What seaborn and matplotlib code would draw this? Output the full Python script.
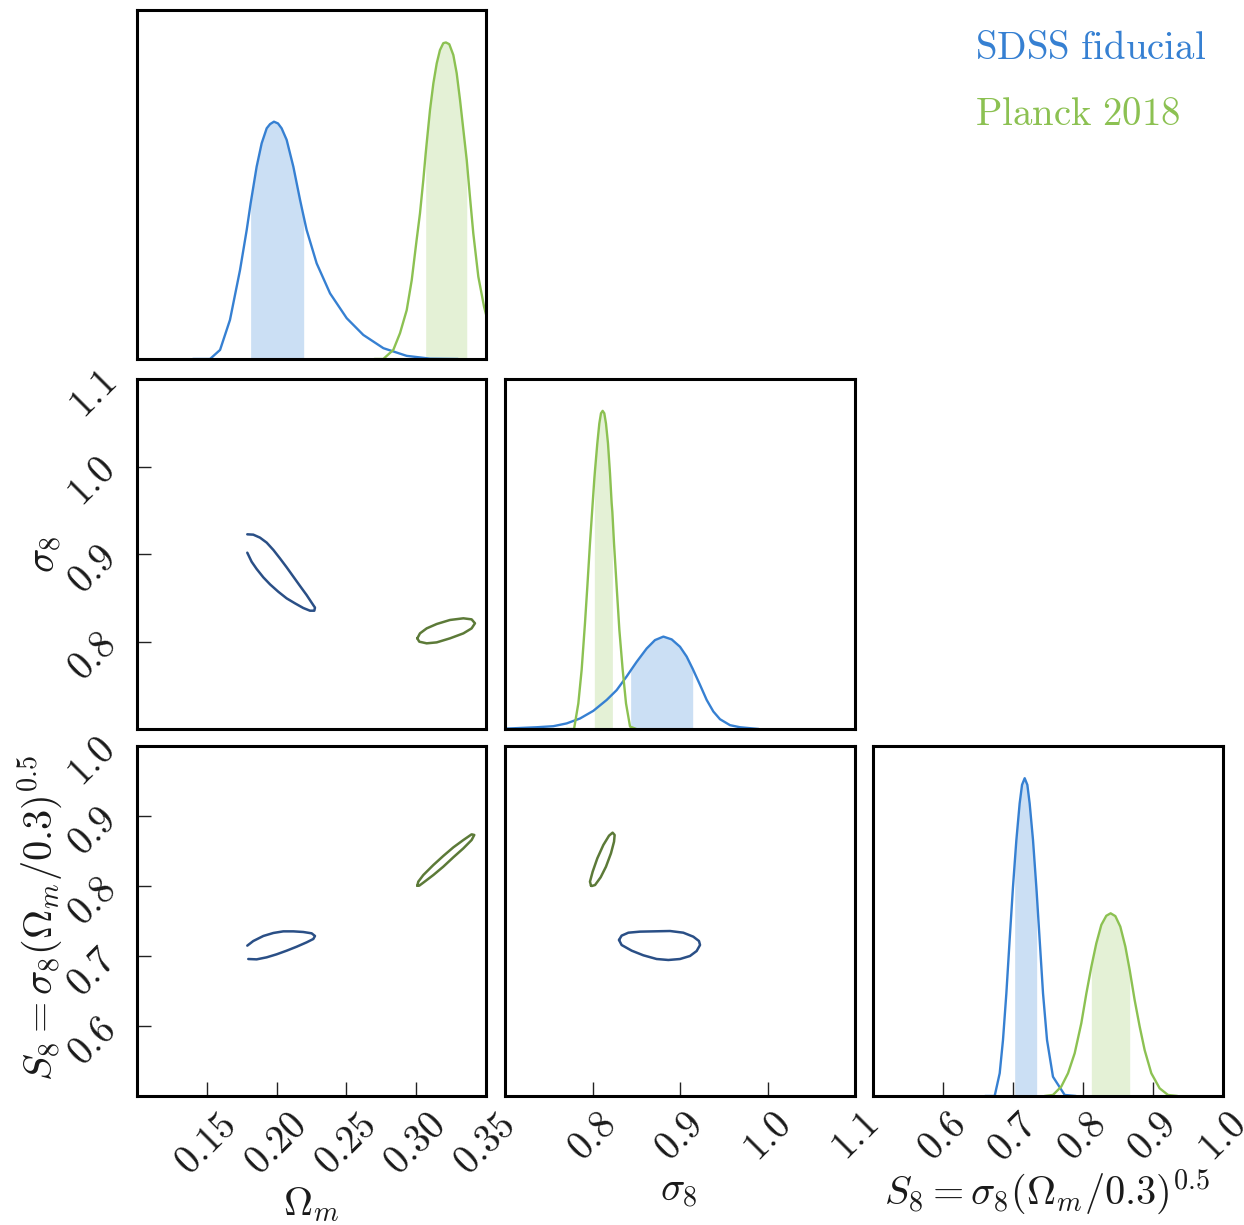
import numpy as np
import matplotlib
matplotlib.use("Agg")
import matplotlib.pyplot as plt
import seaborn as sns

# ---------------- data ----------------
# 1D marginals: parameter value and relative height (panel fraction)
om_sdss_x = [0.1400, 0.1523, 0.1595, 0.1666, 0.1738, 0.1786, 0.1814, 0.1857, 0.1893, 0.1929, 0.1953,
             0.1981, 0.2010, 0.2036, 0.2072, 0.2120, 0.2168, 0.2194, 0.2215, 0.2287, 0.2383, 0.2502,
             0.2621, 0.2765, 0.2932, 0.3099, 0.3300]
om_sdss_y = [0.000, 0.000, 0.026, 0.112, 0.255, 0.370, 0.446, 0.551, 0.618, 0.661, 0.673,
             0.680, 0.675, 0.661, 0.628, 0.551, 0.456, 0.408, 0.370, 0.274, 0.188, 0.117,
             0.069, 0.031, 0.009, 0.001, 0.000]
om_sdss_band = [0.1814, 0.2194]

om_planck_x = [0.2700, 0.2764, 0.2836, 0.2884, 0.2932, 0.2968, 0.3003, 0.3027, 0.3051, 0.3068,
               0.3075, 0.3099, 0.3123, 0.3147, 0.3170, 0.3194, 0.3213, 0.3237, 0.3266, 0.3290,
               0.3314, 0.3338, 0.3362, 0.3385, 0.3409, 0.3445, 0.3486, 0.3529, 0.3600]
om_planck_y = [0.000, 0.000, 0.026, 0.074, 0.140, 0.226, 0.341, 0.417, 0.513, 0.589,
               0.618, 0.714, 0.790, 0.847, 0.885, 0.905, 0.907, 0.902, 0.871, 0.819,
               0.742, 0.656, 0.570, 0.465, 0.360, 0.236, 0.150, 0.083, 0.030]
om_planck_band = [0.3068, 0.3362]

s8_sdss_x = [0.7000, 0.7362, 0.7552, 0.7705, 0.7857, 0.8010, 0.8162, 0.8276, 0.8390, 0.8436, 0.8505,
             0.8619, 0.8714, 0.8810, 0.8905, 0.9000, 0.9076, 0.9145, 0.9229, 0.9305, 0.9381,
             0.9457, 0.9571, 0.9686, 0.9900]
s8_sdss_y = [0.001, 0.005, 0.008, 0.016, 0.030, 0.052, 0.083, 0.111, 0.150, 0.167, 0.192,
             0.230, 0.254, 0.264, 0.256, 0.235, 0.207, 0.172, 0.126, 0.083, 0.050,
             0.028, 0.011, 0.005, 0.000]
s8_sdss_band = [0.8436, 0.9145]

s8_planck_x = [0.7700, 0.7789, 0.7838, 0.7876, 0.7914, 0.7941, 0.7971, 0.8002, 0.8021, 0.8029,
               0.8055, 0.8078, 0.8097, 0.8116, 0.8135, 0.8154, 0.8177, 0.8200, 0.8219, 0.8227,
               0.8246, 0.8276, 0.8307, 0.8345, 0.8383, 0.8429, 0.8500]
s8_planck_y = [0.000, 0.000, 0.073, 0.169, 0.302, 0.407, 0.530, 0.645, 0.715, 0.740,
               0.816, 0.873, 0.902, 0.909, 0.902, 0.873, 0.816, 0.730, 0.645, 0.620,
               0.530, 0.407, 0.283, 0.169, 0.073, 0.007, 0.000]
s8_planck_band = [0.8021, 0.8227]

S8_sdss_x = [0.6600, 0.6738, 0.6810, 0.6857, 0.6905, 0.6952, 0.7000, 0.7024, 0.7048, 0.7095,
             0.7129, 0.7167, 0.7205, 0.7238, 0.7286, 0.7333, 0.7338, 0.7381, 0.7429, 0.7486,
             0.7571, 0.7738, 0.7900]
S8_sdss_y = [0.000, 0.000, 0.065, 0.160, 0.293, 0.446, 0.598, 0.665, 0.731, 0.836,
             0.889, 0.908, 0.889, 0.836, 0.731, 0.598, 0.583, 0.446, 0.293, 0.160,
             0.055, 0.003, 0.000]
S8_sdss_band = [0.7024, 0.7338]

S8_planck_x = [0.7450, 0.7571, 0.7690, 0.7786, 0.7881, 0.7976, 0.8048, 0.8119, 0.8190, 0.8262,
               0.8333, 0.8395, 0.8462, 0.8533, 0.8605, 0.8667, 0.8738, 0.8810, 0.8881, 0.8976,
               0.9095, 0.9214, 0.9350]
S8_planck_y = [0.000, 0.003, 0.027, 0.065, 0.122, 0.208, 0.293, 0.369, 0.436, 0.489,
               0.515, 0.522, 0.514, 0.484, 0.427, 0.360, 0.274, 0.198, 0.131, 0.065,
               0.022, 0.003, 0.000]
S8_planck_band = [0.8119, 0.8667]

# 2D contours (68% level)
c_om_s8_sdss_x = [0.1790, 0.1833, 0.1881, 0.1929, 0.1977, 0.2024, 0.2072, 0.2120, 0.2168, 0.2215, 0.2251, 0.2275,
                  0.2270, 0.2239, 0.2191, 0.2132, 0.2072, 0.2012, 0.1953, 0.1905, 0.1857, 0.1821, 0.1790]
c_om_s8_sdss_y = [0.9225, 0.9221, 0.9187, 0.9130, 0.9046, 0.8950, 0.8848, 0.8741, 0.8634, 0.8531, 0.8444, 0.8387,
                  0.8352, 0.8352, 0.8383, 0.8436, 0.8493, 0.8569, 0.8653, 0.8733, 0.8829, 0.8912, 0.9015]
c_om_s8_planck_x = [0.3008, 0.3027, 0.3075, 0.3147, 0.3242, 0.3338, 0.3397, 0.3421, 0.3397, 0.3338,
                    0.3242, 0.3147, 0.3075, 0.3022, 0.3008]
c_om_s8_planck_y = [0.8036, 0.8093, 0.8150, 0.8200, 0.8246, 0.8265, 0.8253, 0.8208, 0.8150, 0.8093,
                    0.8036, 0.7990, 0.7979, 0.7998, 0.8036]

c_om_S8_sdss_x = [0.1790, 0.1833, 0.1905, 0.1977, 0.2048, 0.2120, 0.2191, 0.2251, 0.2275, 0.2263,
                  0.2215, 0.2144, 0.2072, 0.2000, 0.1929, 0.1857, 0.1797]
c_om_S8_sdss_y = [0.7148, 0.7214, 0.7286, 0.7329, 0.7352, 0.7352, 0.7343, 0.7324, 0.7286, 0.7243,
                  0.7195, 0.7133, 0.7076, 0.7024, 0.6981, 0.6952, 0.6957]
c_om_S8_planck_x = [0.3008, 0.3015, 0.3051, 0.3123, 0.3194, 0.3266, 0.3338, 0.3397, 0.3416, 0.3397,
                    0.3338, 0.3266, 0.3194, 0.3123, 0.3051, 0.3022, 0.3008]
c_om_S8_planck_y = [0.8005, 0.8062, 0.8157, 0.8300, 0.8429, 0.8552, 0.8657, 0.8738, 0.8729, 0.8657,
                    0.8538, 0.8410, 0.8276, 0.8157, 0.8048, 0.8005, 0.8005]

c_s8_S8_sdss_x = [0.8303, 0.8333, 0.8410, 0.8543, 0.8695, 0.8886, 0.9038, 0.9152, 0.9217, 0.9229,
                  0.9190, 0.9114, 0.9000, 0.8867, 0.8733, 0.8581, 0.8448, 0.8333, 0.8303]
c_s8_S8_sdss_y = [0.7229, 0.7291, 0.7333, 0.7348, 0.7352, 0.7357, 0.7333, 0.7276, 0.7214, 0.7157,
                  0.7071, 0.7000, 0.6957, 0.6943, 0.6957, 0.7010, 0.7076, 0.7157, 0.7229]
c_s8_S8_planck_x = [0.7983, 0.7971, 0.8002, 0.8055, 0.8124, 0.8189, 0.8230, 0.8253, 0.8246, 0.8211,
                    0.8154, 0.8093, 0.8029, 0.7991, 0.7983]
c_s8_S8_planck_y = [0.8005, 0.8062, 0.8205, 0.8395, 0.8586, 0.8719, 0.8762, 0.8729, 0.8633, 0.8467,
                    0.8276, 0.8124, 0.8014, 0.8000, 0.8005]

om_ticks = [0.15, 0.20, 0.25, 0.30, 0.35]
om_labels = ["0.15", "0.20", "0.25", "0.30", "0.35"]
s8_ticks = [0.8, 0.9, 1.0, 1.1]
s8_labels = ["0.8", "0.9", "1.0", "1.1"]
S8_ticks = [0.6, 0.7, 0.8, 0.9, 1.0]
S8_labels = ["0.6", "0.7", "0.8", "0.9", "1.0"]
lim_om = (0.10, 0.35)
lim_s8 = (0.70, 1.10)
lim_S8 = (0.50, 1.00)

param_labels = [r"$\Omega_m$", r"$\sigma_8$", r"$S_8=\sigma_8(\Omega_m/0.3)^{0.5}$"]
legend_names = [r"$\mathrm{SDSS\ fiducial}$", r"$\mathrm{Planck\ 2018}$"]

# ---------------- style ----------------
sns.set_theme(style="white")
plt.rcParams["mathtext.fontset"] = "cm"
plt.rcParams["font.family"] = ["DejaVu Serif"]

BLUE = "#3680d2"
BLUE_FILL = "#cbdff4"
GREEN = "#8cc152"
GREEN_FILL = "#e4f1d6"
BLUE_DARK = "#2a4f86"
GREEN_DARK = "#5c7a38"
TICK_FS = 28
LABEL_FS = 29
TXT = "#1a1a1a"

W, H = 1244, 1225
fig = plt.figure(figsize=(W / 100, H / 100), dpi=100)

cols = [(137, 486), (505, 855), (873, 1223)]
rows = [(10, 359), (379, 729), (746, 1096)]


def make_ax(r, c):
    x0, x1 = cols[c]
    y0, y1 = rows[r]
    ax = fig.add_axes([x0 / W, 1 - y1 / H, (x1 - x0) / W, (y1 - y0) / H])
    for s in ax.spines.values():
        s.set_linewidth(2.2)
        s.set_color("black")
    ax.set_facecolor("white")
    ax.tick_params(direction="in", length=10, width=1.0, color="#222222",
                   labelsize=TICK_FS, labelcolor=TXT,
                   bottom=False, left=False, top=False, right=False,
                   labelbottom=False, labelleft=False)
    return ax


def diag(ax, xs, ys, band, line, fill):
    xs = np.asarray(xs)
    ys = np.asarray(ys)
    m = (xs >= band[0] - 1e-9) & (xs <= band[1] + 1e-9)
    ax.fill_between(xs[m], 0, ys[m], color=fill, lw=0)
    sns.lineplot(x=xs, y=ys, ax=ax, color=line, lw=1.7, sort=False, estimator=None, legend=False)
    ax.set_ylim(0, 1)
    ax.set_yticks([])
    ax.set_xlabel("")
    ax.set_ylabel("")


def contour(ax, xs, ys, color):
    sns.lineplot(x=xs, y=ys, ax=ax, color=color, lw=1.8, sort=False, estimator=None, legend=False)
    ax.set_xlabel("")
    ax.set_ylabel("")


def mt(labels):
    return ["$" + l + "$" for l in labels]


def xticks(ax, ticks, labels):
    ax.set_xticks(ticks)
    ax.set_xticklabels(mt(labels))
    ax.tick_params(axis="x", bottom=True, labelbottom=True, labelrotation=45, pad=8)


def yticks(ax, ticks, labels):
    ax.set_yticks(ticks)
    ax.set_yticklabels(mt(labels))
    ax.tick_params(axis="y", left=True, labelleft=True, labelrotation=45, pad=10)


# Row 1
ax11 = make_ax(0, 0)
diag(ax11, om_sdss_x, om_sdss_y, om_sdss_band, BLUE, BLUE_FILL)
diag(ax11, om_planck_x, om_planck_y, om_planck_band, GREEN, GREEN_FILL)
ax11.set_xlim(*lim_om)

# Row 2
ax21 = make_ax(1, 0)
contour(ax21, c_om_s8_sdss_x, c_om_s8_sdss_y, BLUE_DARK)
contour(ax21, c_om_s8_planck_x, c_om_s8_planck_y, GREEN_DARK)
ax21.set_xlim(*lim_om)
ax21.set_ylim(*lim_s8)
yticks(ax21, s8_ticks, s8_labels)

ax22 = make_ax(1, 1)
diag(ax22, s8_sdss_x, s8_sdss_y, s8_sdss_band, BLUE, BLUE_FILL)
diag(ax22, s8_planck_x, s8_planck_y, s8_planck_band, GREEN, GREEN_FILL)
ax22.set_xlim(*lim_s8)

# Row 3
ax31 = make_ax(2, 0)
contour(ax31, c_om_S8_sdss_x, c_om_S8_sdss_y, BLUE_DARK)
contour(ax31, c_om_S8_planck_x, c_om_S8_planck_y, GREEN_DARK)
ax31.set_xlim(*lim_om)
ax31.set_ylim(*lim_S8)
yticks(ax31, S8_ticks, S8_labels)
xticks(ax31, om_ticks, om_labels)

ax32 = make_ax(2, 1)
contour(ax32, c_s8_S8_sdss_x, c_s8_S8_sdss_y, BLUE_DARK)
contour(ax32, c_s8_S8_planck_x, c_s8_S8_planck_y, GREEN_DARK)
ax32.set_xlim(*lim_s8)
ax32.set_ylim(*lim_S8)
xticks(ax32, s8_ticks, s8_labels)

ax33 = make_ax(2, 2)
diag(ax33, S8_sdss_x, S8_sdss_y, S8_sdss_band, BLUE, BLUE_FILL)
diag(ax33, S8_planck_x, S8_planck_y, S8_planck_band, GREEN, GREEN_FILL)
ax33.set_xlim(*lim_S8)
xticks(ax33, S8_ticks, S8_labels)

# Axis labels
fig.text(311 / W, 1 - 1205 / H, param_labels[0], fontsize=LABEL_FS, ha="center", va="center", color=TXT)
fig.text(679 / W, 1 - 1192 / H, param_labels[1], fontsize=LABEL_FS, ha="center", va="center", color=TXT)
fig.text(1047 / W, 1 - 1192 / H, param_labels[2], fontsize=LABEL_FS, ha="center", va="center", color=TXT)
fig.text(45 / W, 1 - 554 / H, param_labels[1], fontsize=LABEL_FS, ha="center", va="center",
         rotation=90, color=TXT)
fig.text(40 / W, 1 - 918 / H, param_labels[2], fontsize=LABEL_FS, ha="center", va="center",
         rotation=90, color=TXT)

# Legend text
fig.text(975 / W, 1 - 59 / H, legend_names[0], color=BLUE, fontsize=28, ha="left", va="baseline")
fig.text(975 / W, 1 - 125 / H, legend_names[1], color=GREEN, fontsize=28, ha="left", va="baseline")

fig.savefig("out.png", dpi=100, facecolor="white")
